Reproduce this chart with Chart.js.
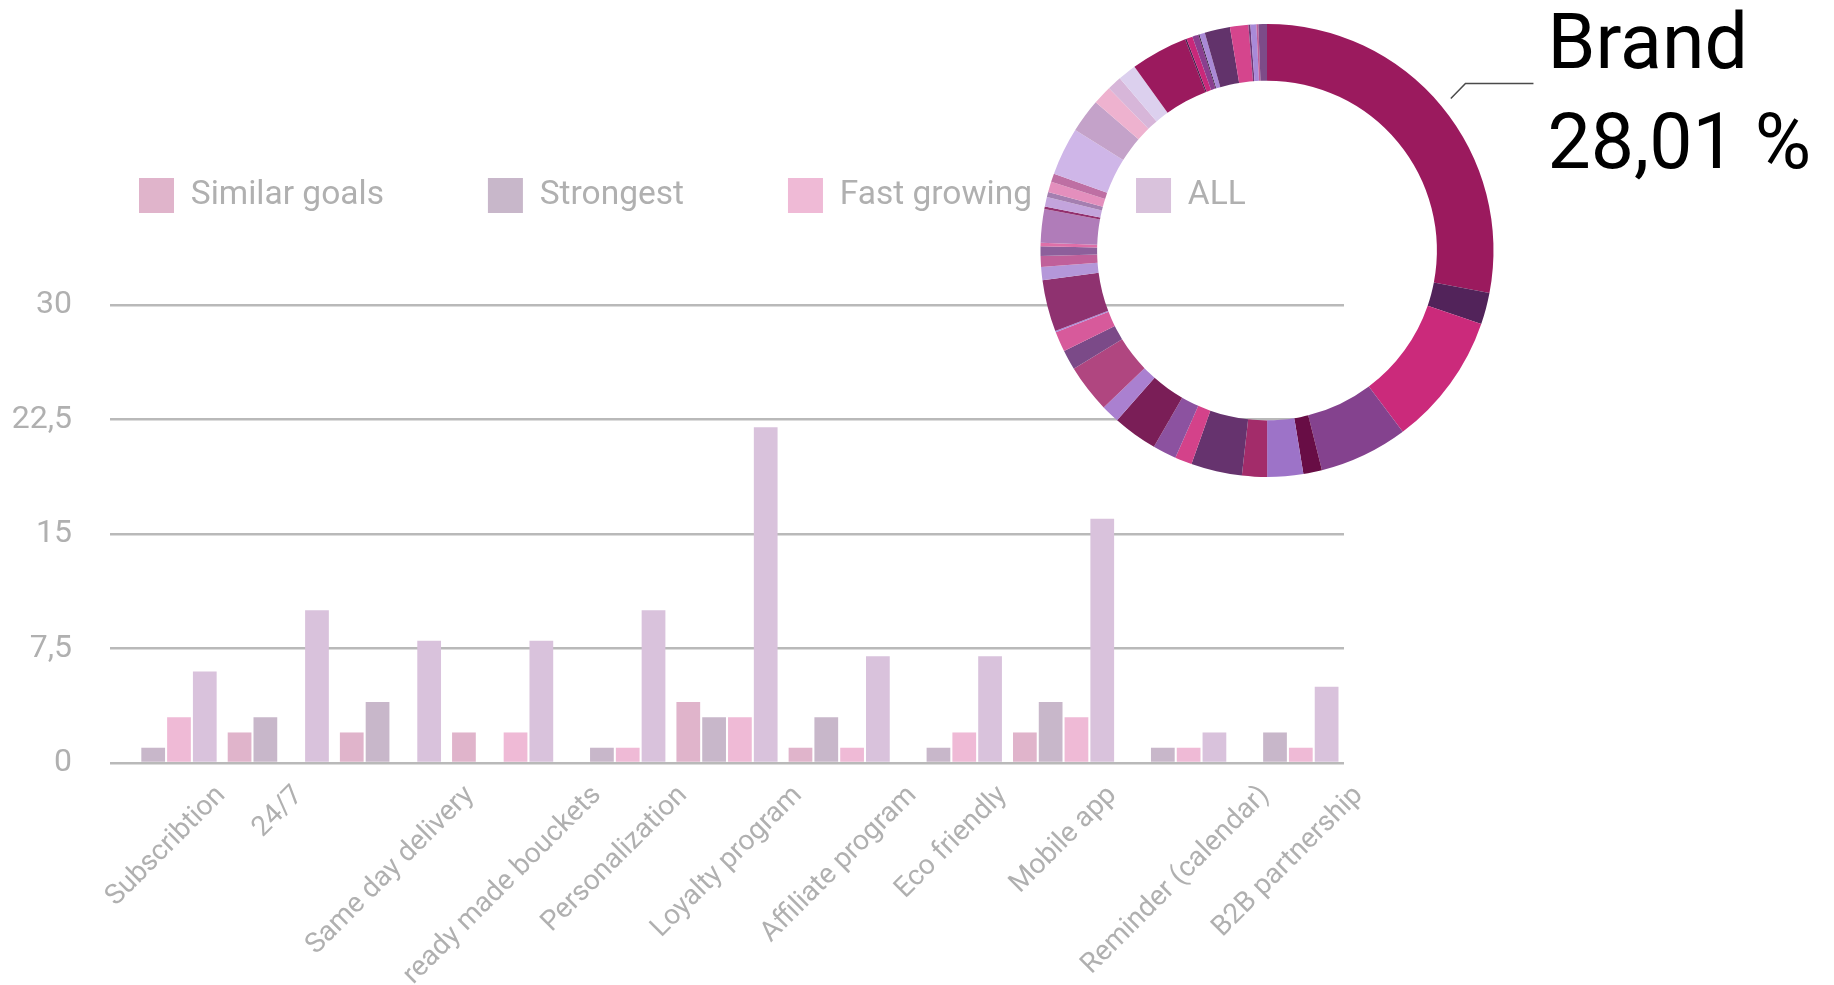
<!DOCTYPE html>
<html>
<head>
<meta charset="utf-8">
<title>Features</title>
<script src="https://cdn.jsdelivr.net/npm/chart.js@4.4.1/dist/chart.umd.min.js"></script>
<style>
  html, body { margin: 0; padding: 0; background: #fff; }
  #wrap { position: relative; width: 1834px; height: 985px; }
  #wrap canvas { position: absolute; left: 0; top: 0; }
  #donutChart { pointer-events: none; }
</style>
</head>
<body>
<div id="wrap">
  <canvas id="barChart" width="1834" height="985"></canvas>
  <canvas id="donutChart" width="1834" height="985"></canvas>
</div>
<script>
// bar chart data
const features = ["Subscribtion", "24/7", "Same day delivery", "ready made bouckets", "Personalization",
  "Loyalty program", "Affiliate program", "Eco friendly", "Mobile app", "Reminder (calendar)", "B2B partnership"];
const similarGoals = [0, 2, 2, 2, 0, 4, 1, 0, 2, 0, 0];
const strongest    = [1, 3, 4, 0, 1, 3, 3, 1, 4, 1, 2];
const fastGrowing  = [3, 0, 0, 2, 1, 3, 1, 2, 3, 1, 1];
const allCompanies = [6, 10, 8, 8, 10, 22, 7, 7, 16, 2, 5];
const yTicks = [0, 7.5, 15, 22.5, 30];

// doughnut data (share in %, clockwise from the top)
const donutValues = [28.01, 2.25, 9.51, 6.33, 1.33, 2.56, 1.78, 3.64, 1.22, 1.69, 3.19, 1.31, 3.44, 1.42, 1.44,
  0.10, 3.68, 0.94, 0.78, 0.67, 0.25, 2.39, 0.19, 0.67, 0.36, 0.75, 0.61, 3.42, 2.42, 1.36, 1.03, 1.31, 4.06,
  0.11, 0.44, 0.44, 0.08, 0.39, 1.81, 1.31, 0.14, 0.42, 0.14, 0.61];
const donutColors = ["#9b1a5e", "#52235a", "#cb2a7b", "#84428e", "#680d45", "#9d73c8", "#a32c6a", "#66336e",
  "#d4428a", "#8c52a0", "#7a1e57", "#aa80d0", "#b04680", "#7b4a88", "#d75a9b", "#a98ad8", "#8f3270", "#b497d9",
  "#c0609a", "#8d5f9b", "#de6fa8", "#b07cb9", "#93306e", "#c3a4dc", "#a47fb0", "#e48fbd", "#be6fa3", "#cfb6e8",
  "#c4a2c9", "#eeb2cf", "#d7b6d9", "#dcd0ee", "#9b1a5e", "#4a1f4f", "#c9287a", "#8a3f8f", "#3d2245", "#a989d6",
  "#62336b", "#d5458d", "#6d3a78", "#a98ad8", "#c0609a", "#7d4b88"];
const brandLabel = "Brand";
const brandShare = "28,01 %";

const FONT = 'Roboto, "Open Sans", sans-serif';
const GREY_TEXT = "#b0b0b0";

// extra room under the legend, one row only, and legend nudged right
const legendGap = {
  id: "legendGap",
  beforeInit(chart) {
    const fit = chart.legend.fit;
    chart.legend.fit = function () {
      this.maxWidth += 300;
      fit.call(this);
      this.height += 82;
    };
  },
  afterLayout(chart) {
    chart.legend.left += 29;
    chart.legend.right += 29;
  }
};

// slanted category labels, centred on each tick
const slantedLabels = {
  id: "slantedLabels",
  afterDraw(chart) {
    const xs = chart.scales.x;
    const ctx = chart.ctx;
    const size = 28;
    ctx.save();
    ctx.font = `400 ${size}px ${FONT}`;
    ctx.fillStyle = GREY_TEXT;
    ctx.textAlign = "center";
    ctx.textBaseline = "middle";
    features.forEach((label, i) => {
      const w = ctx.measureText(label).width;
      const extent = (w + size * 0.72) * Math.SQRT1_2;
      const cx = xs.getPixelForTick(i);
      const cy = chart.chartArea.bottom + 21 + extent / 2;
      ctx.save();
      ctx.translate(cx, cy);
      ctx.rotate(-Math.PI / 4);
      ctx.fillText(label, 0, 0);
      ctx.restore();
    });
    ctx.restore();
  }
};

new Chart(document.getElementById("barChart"), {
  type: "bar",
  data: {
    labels: features,
    datasets: [
      { label: "Similar goals", data: similarGoals, backgroundColor: "#e0b4cb" },
      { label: "Strongest", data: strongest, backgroundColor: "#c8b7ca" },
      { label: "Fast growing", data: fastGrowing, backgroundColor: "#efbad6" },
      { label: "ALL", data: allCompanies, backgroundColor: "#d9c2dc" }
    ]
  },
  options: {
    responsive: false,
    animation: false,
    datasets: { bar: { barPercentage: 0.92, categoryPercentage: 0.92, borderWidth: 0 } },
    layout: { padding: { left: 6, right: 490, top: 74, bottom: 222 } },
    scales: {
      x: {
        grid: { display: false, drawTicks: false },
        border: { display: false },
        ticks: { display: false }
      },
      y: {
        min: yTicks[0],
        max: yTicks[yTicks.length - 1],
        afterFit: (scale) => { scale.width = 104; },
        afterBuildTicks: (scale) => { scale.ticks = yTicks.map(v => ({ value: v })); },
        grid: { color: "#b9b9b9", lineWidth: 2.5, drawTicks: false },
        border: { display: false },
        ticks: {
          padding: 38,
          color: GREY_TEXT,
          font: { family: FONT, size: 32, weight: "400" },
          callback: (v) => String(v).replace(".", ",")
        }
      }
    },
    plugins: {
      legend: {
        position: "top",
        align: "start",
        labels: {
          boxWidth: 35,
          boxHeight: 35,
          padding: 104,
          color: GREY_TEXT,
          font: { family: FONT, size: 33.5, weight: "400" }
        }
      },
      tooltip: { enabled: false }
    }
  },
  plugins: [legendGap, slantedLabels]
});

// leader line and label for the first slice
const brandCallout = {
  id: "brandCallout",
  afterDraw(chart) {
    const arc = chart.getDatasetMeta(0).data[0];
    const { x, y, startAngle, endAngle, outerRadius } =
      arc.getProps(["x", "y", "startAngle", "endAngle", "outerRadius"], true);
    const mid = (startAngle + endAngle) / 2;
    const ctx = chart.ctx;
    const x1 = x + Math.cos(mid) * (outerRadius + 12);
    const y1 = y + Math.sin(mid) * (outerRadius + 12);
    const x2 = x + Math.cos(mid) * (outerRadius + 31);
    const y2 = y + Math.sin(mid) * (outerRadius + 31) - 3;
    const x3 = x2 + 68;
    ctx.save();
    ctx.strokeStyle = "#4a4a4a";
    ctx.lineWidth = 1.5;
    ctx.beginPath();
    ctx.moveTo(x1, y1);
    ctx.lineTo(x2, y2);
    ctx.lineTo(x3, y2);
    ctx.stroke();
    ctx.fillStyle = "#000";
    ctx.font = `400 77px ${FONT}`;
    ctx.textAlign = "left";
    ctx.textBaseline = "alphabetic";
    ctx.fillText(brandLabel, x3 + 14, y2 - 15);
    ctx.fillText(brandShare, x3 + 14, y2 + 85);
    ctx.restore();
  }
};

new Chart(document.getElementById("donutChart"), {
  type: "doughnut",
  data: {
    labels: donutValues.map((v, i) => (i === 0 ? brandLabel : "")),
    datasets: [{ data: donutValues, backgroundColor: donutColors, borderWidth: 0 }]
  },
  options: {
    responsive: false,
    animation: false,
    cutout: "75%",
    layout: { padding: { left: 1040.5, right: 340.5, top: 24, bottom: 508 } },
    plugins: { legend: { display: false }, tooltip: { enabled: false } }
  },
  plugins: [brandCallout]
});
</script>
</body>
</html>
